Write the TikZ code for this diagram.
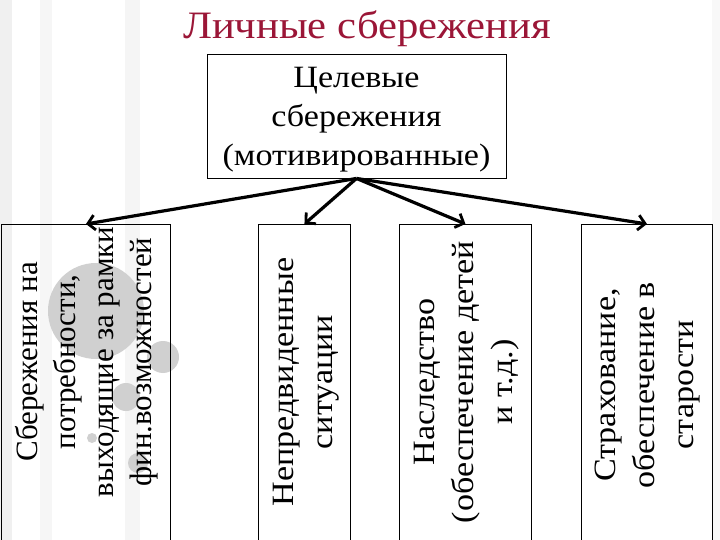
\documentclass[tikz,border=0pt]{standalone}
\usepackage{fontspec}
\setmainfont{Liberation Serif}[FakeStretch=1.1]
\newfontfamily\narrowfont{Liberation Serif}[FakeStretch=1.0]
\usetikzlibrary{arrows.meta}
\definecolor{titlered}{RGB}{155,22,55}
\definecolor{dotgray}{RGB}{208,208,208}
\definecolor{stripe}{RGB}{240,240,240}
\tikzset{
  boxstyle/.style={draw=black, line width=0.9bp, inner sep=0pt},
  vtext/.style={rotate=90, align=center, font=\fontsize{31bp}{39bp}\selectfont, inner sep=0pt},
  toptext/.style={align=center, font=\fontsize{31bp}{39bp}\selectfont},
  arr/.style={line width=3.2bp, -{Straight Barb[length=7bp,width=15bp,line width=2.8bp]}},
}
\begin{document}
\begin{tikzpicture}[x=1bp,y=-1bp]
\useasboundingbox (0,0) rectangle (720,540);
\fill[white] (0,0) rectangle (720,540);
% background stripes
\fill[stripe] (0,0) rectangle (12,540);
\fill[stripe!60] (40,0) rectangle (52,540);
\fill[stripe!70] (125,0) rectangle (140,540);
\fill[stripe!50] (712,0) rectangle (720,540);
% decorative circles
\fill[dotgray] (96,311) circle (48);
\fill[dotgray] (163,357) circle (16);
\fill[dotgray] (126,397) circle (14);
\fill[dotgray] (92,438) circle (5);
\fill[dotgray] (138,463) circle (10);
% title
\node[font=\fontsize{38.8bp}{40bp}\selectfont, text=titlered, anchor=base west, inner sep=0pt] (title) at (183,39) {Личные сбережения};
% top box
\node[boxstyle, minimum width=299bp, minimum height=124bp] (top) at (356.5,116) {};
\node[toptext] (toptxt) at (356.5,120) {Целевые\\сбережения\\(мотивированные)};
% lower boxes
\node[boxstyle, anchor=north west, minimum width=169bp, minimum height=340bp] (b1) at (1,224) {};
\node[boxstyle, anchor=north west, minimum width=92bp, minimum height=340bp] (b2) at (258,224) {};
\node[boxstyle, anchor=north west, minimum width=132bp, minimum height=340bp] (b3) at (399,224) {};
\node[boxstyle, anchor=north west, minimum width=131bp, minimum height=340bp] (b4) at (581,224) {};
% texts
\node[vtext, font=\narrowfont\fontsize{31bp}{38bp}\selectfont] (t1) at (87,362) {Сбережения на\\потребности,\\выходящие за рамки\\фин.возможностей};
\node[vtext] (t2) at (306,382) {Непредвиденные\\ситуации};
\node[vtext] (t3) at (467,382) {Наследство\\(обеспечение детей\\и т.д.)};
\node[vtext] (t4) at (648,385) {Страхование,\\обеспечение в\\старости};
% arrows
\draw[arr] (top.south) -- (b1.north);
\draw[arr] (top.south) -- (b2.north);
\draw[arr] (top.south) -- (b3.north);
\draw[arr] (top.south) -- (b4.north);
\end{tikzpicture}
\end{document}
